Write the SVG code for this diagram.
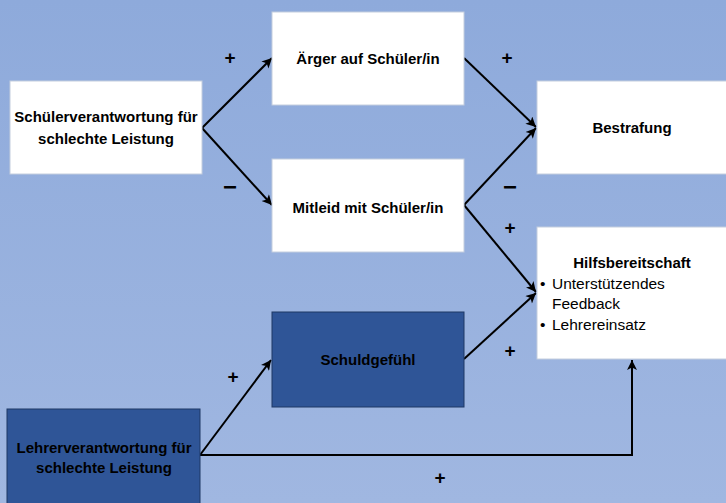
<svg xmlns="http://www.w3.org/2000/svg" width="726" height="503" viewBox="0 0 726 503">
<defs>
<linearGradient id="bg" x1="0" y1="0" x2="0" y2="1">
<stop offset="0" stop-color="#8eaadb"/>
<stop offset="1" stop-color="#a0b7e1"/>
</linearGradient>
<marker id="ah" viewBox="0 0 10 10" refX="10" refY="5" markerWidth="5.5" markerHeight="5" orient="auto" markerUnits="strokeWidth">
<path d="M0,0 L10,5 L0,10 L2.5,5 z" fill="#000"/>
</marker>
<style>
.w{fill:#fff;stroke:#c4cede;stroke-width:1}
.d{fill:#2f5597;stroke:#1f3864;stroke-width:1}
.t{font-family:"Liberation Sans",Arial,sans-serif;font-weight:bold;font-size:15px;fill:#000;text-anchor:middle}
.r{font-family:"Liberation Sans",Arial,sans-serif;font-size:15.5px;fill:#000}
.s{font-family:"Liberation Sans",Arial,sans-serif;font-weight:bold;font-size:19px;fill:#000;text-anchor:middle}
.m{font-family:"Liberation Sans",Arial,sans-serif;font-weight:bold;font-size:24px;fill:#000;text-anchor:middle}
.c{fill:none;stroke:#000;stroke-width:2;marker-end:url(#ah)}
</style>
</defs>
<rect x="0" y="0" width="726" height="503" fill="url(#bg)"/>
<g id="connectors">
<line class="c" x1="202" y1="128" x2="272" y2="58"/>
<line class="c" x1="202" y1="128" x2="272" y2="205"/>
<line class="c" x1="464" y1="58" x2="536" y2="127"/>
<line class="c" x1="464" y1="205" x2="536" y2="128"/>
<line class="c" x1="464" y1="205" x2="536" y2="292"/>
<line class="c" x1="464" y1="359" x2="536" y2="293"/>
<line class="c" x1="200" y1="455" x2="271" y2="360"/>
<polyline class="c" points="200,455 632,455 632,360"/>
</g>
<g id="signs">
<text class="s" x="230" y="64">+</text>
<text class="m" x="230" y="195">−</text>
<text class="s" x="507" y="64">+</text>
<text class="m" x="510" y="195">−</text>
<text class="s" x="510" y="234">+</text>
<text class="s" x="510" y="357">+</text>
<text class="s" x="233" y="383">+</text>
<text class="s" x="440" y="484">+</text>
</g>
<g id="schueler">
<rect class="w" x="10" y="81" width="192" height="93"/>
<text class="t" x="106" y="122">Schülerverantwortung für</text>
<text class="t" x="106" y="144">schlechte Leistung</text>
</g>
<g id="aerger">
<rect class="w" x="272" y="12" width="192" height="93"/>
<text class="t" x="368" y="64">Ärger auf Schüler/in</text>
</g>
<g id="mitleid">
<rect class="w" x="272" y="159" width="192" height="93"/>
<text class="t" x="368" y="213">Mitleid mit Schüler/in</text>
</g>
<g id="bestrafung">
<rect class="w" x="537" y="81" width="200" height="93"/>
<text class="t" x="632" y="133">Bestrafung</text>
</g>
<g id="hilfsbereitschaft">
<rect class="w" x="537" y="227" width="200" height="132"/>
<text class="t" x="632" y="268">Hilfsbereitschaft</text>
<text class="r" x="540" y="289">•</text>
<text class="r" x="552" y="289">Unterstützendes</text>
<text class="r" x="552" y="309">Feedback</text>
<text class="r" x="540" y="330">•</text>
<text class="r" x="552" y="330">Lehrereinsatz</text>
</g>
<g id="schuld">
<rect class="d" x="272" y="312" width="192" height="95"/>
<text class="t" x="368" y="365">Schuldgefühl</text>
</g>
<g id="lehrer">
<rect class="d" x="7" y="409" width="193" height="100"/>
<text class="t" x="104" y="453">Lehrerverantwortung für</text>
<text class="t" x="104" y="473">schlechte Leistung</text>
</g>
</svg>
